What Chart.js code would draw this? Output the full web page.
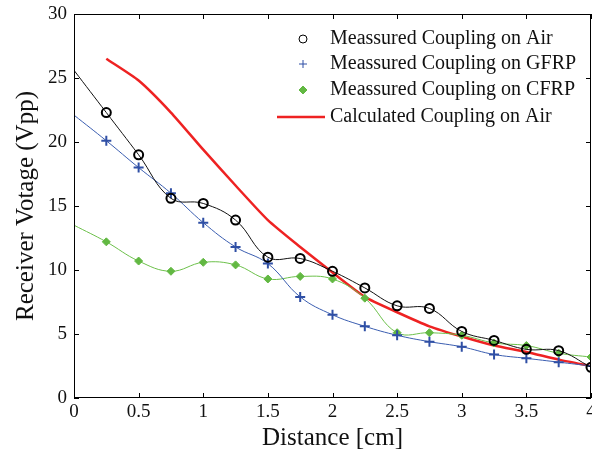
<!DOCTYPE html>
<html>
<head>
<meta charset="utf-8">
<script src="https://cdn.jsdelivr.net/npm/chart.js@4"></script>
<style>
  html, body { margin: 0; padding: 0; background: #fff; }
  #wrap { width: 592px; height: 456px; }
</style>
</head>
<body>
<div id="wrap"><canvas id="couplingChart" width="592" height="456"></canvas></div>
<script>
// Dados (distância em cm, tensão em Vpp)
const distance = [0, 0.25, 0.5, 0.75, 1, 1.25, 1.5, 1.75, 2, 2.25, 2.5, 2.75, 3, 3.25, 3.5, 3.75, 4];
const airMeasured = [25.6, 22.3, 19.0, 15.6, 15.2, 13.9, 11.0, 10.9, 9.9, 8.6, 7.2, 7.0, 5.2, 4.5, 3.8, 3.7, 2.4];
const gfrpMeasured = [22.1, 20.1, 18.0, 16.0, 13.7, 11.8, 10.5, 7.9, 6.5, 5.6, 4.9, 4.4, 4.0, 3.4, 3.1, 2.8, 2.5];
const cfrpMeasured = [13.5, 12.2, 10.7, 9.9, 10.6, 10.4, 9.3, 9.5, 9.3, 7.8, 5.1, 5.1, 4.9, 4.3, 4.1, 3.5, 3.2];
const calcDistance = [0.25, 0.5, 0.75, 1, 1.25, 1.5, 1.75, 2, 2.25, 2.5, 2.75, 3, 3.25, 3.5, 3.75, 4];
const airCalculated = [26.5, 24.8, 22.3, 19.4, 16.6, 13.9, 11.8, 9.8, 7.9, 6.7, 5.6, 4.8, 4.1, 3.6, 3.0, 2.5];

const xTicks = [0, 0.5, 1, 1.5, 2, 2.5, 3, 3.5, 4];
const yTicks = [0, 5, 10, 15, 20, 25, 30];

const legendLabels = [
  'Meassured Coupling on Air',
  'Meassured Coupling on GFRP',
  'Meassured Coupling on CFRP',
  'Calculated Coupling on Air'
];

const SERIF = '"Liberation Serif", "DejaVu Serif", serif';
const toPoints = (xs, ys) => xs.map((x, i) => ({ x, y: ys[i] }));
// primeiro ponto (x=0) é só da curva ajustada, sem marcador
const hideFirst = (r) => (ctx) => ctx.dataIndex === 0 ? 0 : r;

// Moldura estilo MATLAB com ticks para dentro + legenda dentro da área
const boxPlugin = {
  id: 'boxPlugin',
  afterDraw(chart) {
    const { ctx, chartArea: a, scales } = chart;
    const tl = 5;
    ctx.save();
    ctx.strokeStyle = '#000';
    ctx.lineWidth = 1;
    ctx.strokeRect(a.left + 0.5, a.top + 0.5, a.right - a.left - 1, a.bottom - a.top - 1);
    ctx.beginPath();
    xTicks.forEach(v => {
      const px = Math.round(scales.x.getPixelForValue(v)) + 0.5;
      ctx.moveTo(px, a.bottom); ctx.lineTo(px, a.bottom - tl);
      ctx.moveTo(px, a.top); ctx.lineTo(px, a.top + tl);
    });
    yTicks.forEach(v => {
      const py = Math.round(scales.y.getPixelForValue(v)) + 0.5;
      ctx.moveTo(a.left, py); ctx.lineTo(a.left + tl, py);
      ctx.moveTo(a.right, py); ctx.lineTo(a.right - tl, py);
    });
    ctx.stroke();

    // legenda
    const lx = 303, tx = 330, rows = [39, 64, 90, 117];
    ctx.font = '20px ' + SERIF;
    ctx.textBaseline = 'middle';
    ctx.fillStyle = '#111';
    chart.data.datasets.forEach((ds, i) => {
      const y = rows[i];
      ctx.save();
      if (i === 3) {
        ctx.strokeStyle = ds.borderColor;
        ctx.lineWidth = 2.5;
        ctx.beginPath(); ctx.moveTo(277, y); ctx.lineTo(325, y); ctx.stroke();
      } else {
        ctx.strokeStyle = ds.pointBorderColor;
        ctx.fillStyle = ds.pointBackgroundColor;
        Chart.helpers.drawPoint(ctx, {
          pointStyle: ds.pointStyle, radius: 4, borderWidth: 2, rotation: 0
        }, lx, y);
      }
      ctx.restore();
      ctx.fillText(legendLabels[i], tx, y);
    });
    ctx.restore();
  }
};

const ctx = document.getElementById('couplingChart').getContext('2d');
new Chart(ctx, {
  type: 'scatter',
  data: {
    datasets: [
      {
        label: legendLabels[0],
        data: toPoints(distance, airMeasured),
        showLine: true,
        borderColor: '#111',
        borderWidth: 1,
        tension: 0.4,
        pointStyle: 'circle',
        pointRadius: hideFirst(4.5),
        pointBorderWidth: 2,
        pointBorderColor: '#000',
        pointBackgroundColor: 'rgba(0,0,0,0)'
      },
      {
        label: legendLabels[1],
        data: toPoints(distance, gfrpMeasured),
        showLine: true,
        borderColor: '#3a5db0',
        borderWidth: 1,
        tension: 0.4,
        pointStyle: 'cross',
        pointRadius: hideFirst(5),
        pointBorderWidth: 2,
        pointBorderColor: '#2f4fa5',
        pointBackgroundColor: '#2f4fa5'
      },
      {
        label: legendLabels[2],
        data: toPoints(distance, cfrpMeasured),
        showLine: true,
        borderColor: '#6cc04a',
        borderWidth: 1,
        tension: 0.4,
        pointStyle: 'rectRot',
        pointRadius: hideFirst(4),
        pointBorderWidth: 1,
        pointBorderColor: '#62b842',
        pointBackgroundColor: '#62b842'
      },
      {
        label: legendLabels[3],
        data: toPoints(calcDistance, airCalculated),
        showLine: true,
        borderColor: '#ee2222',
        borderWidth: 2.5,
        tension: 0.2,
        pointRadius: 0
      }
    ]
  },
  options: {
    responsive: false,
    animation: false,
    events: [],
    layout: { autoPadding: false, padding: { top: 14, right: 1, left: 0, bottom: 0 } },
    plugins: { legend: { display: false }, tooltip: { enabled: false } },
    scales: {
      x: {
        type: 'linear',
        min: 0, max: 4,
        afterFit: (s) => { s.height = 58; s.paddingLeft = 0; s.paddingRight = 0; },
        afterBuildTicks: (s) => { s.ticks = xTicks.map(v => ({ value: v })); },
        grid: { display: false, drawTicks: false },
        border: { display: false },
        ticks: {
          color: '#111', font: { family: SERIF, size: 19 }, padding: 3,
          callback: (v) => String(v)
        },
        title: {
          display: true, text: 'Distance [cm]', color: '#111',
          font: { family: SERIF, size: 25 }, padding: { top: 0, bottom: 3 }
        }
      },
      y: {
        type: 'linear',
        min: 0, max: 30,
        afterFit: (s) => { s.width = 74; s.paddingTop = 0; s.paddingBottom = 0; },
        afterBuildTicks: (s) => { s.ticks = yTicks.map(v => ({ value: v })); },
        grid: { display: false, drawTicks: false },
        border: { display: false },
        ticks: {
          color: '#111', font: { family: SERIF, size: 19 }, padding: 7,
          callback: (v) => String(v)
        },
        title: {
          display: true, text: 'Receiver Votage (Vpp)', color: '#111',
          font: { family: SERIF, size: 25 }, padding: { top: 11, bottom: 0 }
        }
      }
    }
  },
  plugins: [boxPlugin]
});
</script>
</body>
</html>
